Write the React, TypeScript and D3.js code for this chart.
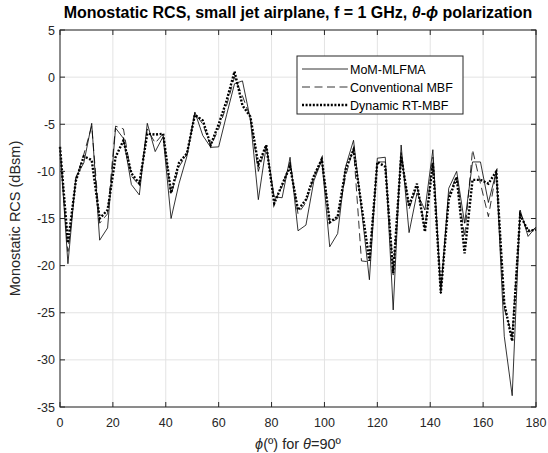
import React, { useEffect, useRef } from "react";
import * as d3 from "d3";

// phi samples every 3 degrees, 0..180
const phi = d3.range(0, 181, 3);

const mom = [
  -7.4, -19.8, -10.6, -9.1, -4.9, -17.3, -16, -5.4, -6.5, -11.4, -12.5, -4.9, -7.9, -6.3, -15, -11.3, -8.4, -3.7, -6.2, -7.45,
  -7.4, -4, -0.7, -0.4, -4.5, -13, -7.3, -12.7, -12.8, -8.5, -16.3, -15.7, -11, -8.8, -18, -16.6, -9.5, -6.7, -14, -21.5,
  -8.6, -8.5, -24.7, -7.2, -16.5, -12.3, -14.1, -7.7, -23, -11.8, -10, -15.5, -9, -9, -13.3, -10, -27.5, -33.8, -14.1, -16.9,
  -15.9,
];

const mbf = [
  -7.4, -18.5, -10.8, -8.2, -5.2, -15.5, -14.5, -5.2, -5.5, -10.5, -11.5, -5.5, -7, -6, -12.5, -9.5, -8.2, -3.8, -5, -7.3,
  -5.5, -3, 0, -2, -4.3, -10, -7.2, -13.2, -11.6, -9, -14.5, -13.3, -10.6, -8.7, -15.5, -15, -10.5, -7.5, -19.5, -19.6,
  -9, -9, -21, -8, -14, -11.5, -16, -8.5, -22.5, -12.5, -10.5, -17, -7.7, -11.3, -14.8, -10, -24.5, -27.5, -14.4, -16.5,
  -16,
];

const rtmbf = [
  -7.4, -17.6, -11, -8.4, -8.8, -15, -14.1, -8.5, -6.7, -10.2, -11.3, -6, -6.1, -6, -12.3, -9.1, -8.1, -4, -4.6, -7.2,
  -5, -2.5, 0.6, -3, -4.2, -9.3, -7.2, -13.4, -11.4, -9.5, -14.1, -13, -10.5, -8.7, -15.4, -14.8, -9.8, -7.7, -13.6, -19.5,
  -9, -9.5, -20.8, -8.4, -13.7, -11.3, -16.4, -9.1, -22.9, -13, -10.6, -18.7, -10.9, -10.9, -11.3, -10, -24, -28, -14.6, -16.3,
  -16.2,
];

const xTicks = [0, 20, 40, 60, 80, 100, 120, 140, 160, 180];
const yTicks = [5, 0, -5, -10, -15, -20, -25, -30, -35];
const legendNames = ["MoM-MLFMA", "Conventional MBF", "Dynamic RT-MBF"];

const W = 548;
const H = 453;
const margin = { left: 60, right: 12, top: 30, bottom: 46 };
const font = "'Liberation Sans', Arial, sans-serif";
const axisColor = "#262626";

export default function App() {
  const ref = useRef<SVGSVGElement>(null);

  useEffect(() => {
    const svg = d3.select(ref.current);
    svg.selectAll("*").remove();

    const x = d3.scaleLinear().domain([0, 180]).range([margin.left, W - margin.right]);
    const y = d3.scaleLinear().domain([-35, 5]).range([H - margin.bottom, margin.top]);
    const [x0, x1] = x.range();
    const [y0, y1] = y.range();

    svg.append("rect").attr("width", W).attr("height", H).attr("fill", "#fff");

    // grid
    const grid = svg.append("g").attr("stroke", "#e3e3e3").attr("stroke-width", 1);
    xTicks.forEach((t) => {
      grid.append("line").attr("x1", x(t)).attr("x2", x(t)).attr("y1", y0).attr("y2", y1);
    });
    yTicks.forEach((t) => {
      grid.append("line").attr("x1", x0).attr("x2", x1).attr("y1", y(t)).attr("y2", y(t));
    });

    // lines
    const line = d3
      .line<number>()
      .x((d, i) => x(phi[i]))
      .y((d) => y(d));

    svg.append("path").attr("d", line(mom)).attr("fill", "none").attr("stroke", "#000").attr("stroke-width", 0.8);
    svg
      .append("path")
      .attr("d", line(mbf))
      .attr("fill", "none")
      .attr("stroke", "#000")
      .attr("stroke-width", 0.8)
      .attr("stroke-dasharray", "8,4.5");
    svg
      .append("path")
      .attr("d", line(rtmbf))
      .attr("fill", "none")
      .attr("stroke", "#000")
      .attr("stroke-width", 2.4)
      .attr("stroke-dasharray", "2,1.6");

    // box + ticks
    const ax = svg.append("g").attr("stroke", axisColor).attr("stroke-width", 1).attr("fill", "none");
    ax.append("rect").attr("x", x0).attr("y", y1).attr("width", x1 - x0).attr("height", y0 - y1);
    xTicks.forEach((t) => {
      ax.append("line").attr("x1", x(t)).attr("x2", x(t)).attr("y1", y0).attr("y2", y0 - 5);
      ax.append("line").attr("x1", x(t)).attr("x2", x(t)).attr("y1", y1).attr("y2", y1 + 5);
    });
    yTicks.forEach((t) => {
      ax.append("line").attr("x1", x0).attr("x2", x0 + 5).attr("y1", y(t)).attr("y2", y(t));
      ax.append("line").attr("x1", x1).attr("x2", x1 - 5).attr("y1", y(t)).attr("y2", y(t));
    });

    const txt = svg.append("g").attr("font-family", font).attr("fill", axisColor).attr("font-size", 12.5);
    xTicks.forEach((t) => {
      txt.append("text").attr("x", x(t)).attr("y", y0 + 20).attr("text-anchor", "middle").text(t);
    });
    yTicks.forEach((t) => {
      txt.append("text").attr("x", x0 - 5).attr("y", y(t) + 4.5).attr("text-anchor", "end").text(t);
    });

    // axis labels
    const xl = txt
      .append("text")
      .attr("x", (x0 + x1) / 2)
      .attr("y", y0 + 42)
      .attr("text-anchor", "middle")
      .attr("font-size", 14.5);
    xl.append("tspan").attr("font-style", "italic").text("ϕ");
    xl.append("tspan").text("(º) for ");
    xl.append("tspan").attr("font-style", "italic").text("θ");
    xl.append("tspan").text("=90º");

    txt
      .append("text")
      .attr("transform", `translate(20,${(y0 + y1) / 2}) rotate(-90)`)
      .attr("text-anchor", "middle")
      .attr("font-size", 14.5)
      .text("Monostatic RCS (dBsm)");

    const title = svg
      .append("text")
      .attr("x", (x0 + x1) / 2)
      .attr("y", 18)
      .attr("text-anchor", "middle")
      .attr("font-family", font)
      .attr("font-weight", "bold")
      .attr("font-size", 16)
      .attr("fill", "#000");
    title.append("tspan").text("Monostatic RCS, small jet airplane, f = 1 GHz, ");
    title.append("tspan").attr("font-style", "italic").text("θ");
    title.append("tspan").text("-");
    title.append("tspan").attr("font-style", "italic").text("ϕ");
    title.append("tspan").text(" polarization");

    // legend
    const lg = svg.append("g").attr("transform", "translate(297,56)");
    lg.append("rect").attr("width", 166).attr("height", 58).attr("fill", "#fff").attr("stroke", axisColor).attr("stroke-width", 1);
    const styles = [
      { w: 0.8, dash: null },
      { w: 0.8, dash: "8,4.5" },
      { w: 2.4, dash: "2,1.6" },
    ];
    legendNames.forEach((name, i) => {
      const yy = 13 + i * 18;
      const l = lg
        .append("line")
        .attr("x1", 5)
        .attr("x2", 51)
        .attr("y1", yy)
        .attr("y2", yy)
        .attr("stroke", "#000")
        .attr("stroke-width", styles[i].w);
      if (styles[i].dash) l.attr("stroke-dasharray", styles[i].dash);
      lg.append("text")
        .attr("x", 53)
        .attr("y", yy + 4.5)
        .attr("font-family", font)
        .attr("font-size", 12.5)
        .attr("fill", "#000")
        .text(name);
    });
  }, []);

  return <svg ref={ref} width={W} height={H} style={{ display: "block", position: "absolute", left: 0, top: 0 }} />;
}
